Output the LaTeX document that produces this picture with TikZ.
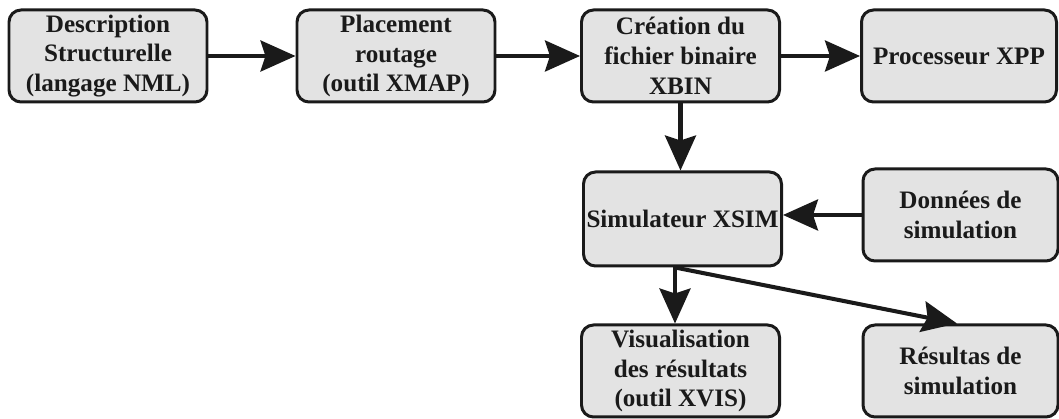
\documentclass[tikz,border=0pt]{standalone}
\usepackage{fontspec}
\setmainfont{Liberation Serif}
\usepackage{tikz}
\usetikzlibrary{positioning,arrows.meta,calc}
\definecolor{boxgray}{RGB}{227,227,227}
\definecolor{inkblack}{RGB}{26,26,26}

\begin{document}
\begin{tikzpicture}[
    box/.style={draw=inkblack, fill=boxgray, line width=1.7pt, rounded corners=0.24cm, inner sep=0pt,
        minimum width=3.96cm, minimum height=1.84cm, align=center, text=inkblack,
        font=\fontsize{14.3}{17}\selectfont\bfseries},
    rbox/.style={box, minimum width=3.9cm},
    arr/.style={-{Stealth[length=0.7cm, width=0.62cm, inset=0.1cm]}, line width=2.3pt, draw=inkblack},
]
\useasboundingbox (0,0) rectangle (21.18,8.38);

% === Flot principal (haut) ===
\node[box] (desc) at (2.16, 7.26) {Description\\Structurelle\\(langage NML)};
\node[box] (place) at (7.92, 7.26) {Placement\\routage\\(outil XMAP)};
\node[box] (bin) at (13.61, 7.26) {Création du\\fichier binaire\\XBIN};
\node[rbox] (xpp) at (19.18, 7.26) {Processeur XPP};

% === Simulation ===
\node[box, minimum height=1.88cm] (sim) at (13.65, 4.0) {Simulateur XSIM};
\node[rbox] (donnees) at (19.21, 4.08) {Données de\\simulation};

\node[box] (vis) at (13.61, 0.96) {Visualisation\\des résultats\\(outil XVIS)};
\node[rbox] (res) at (19.21, 0.96) {Résultas de\\simulation};

\draw[arr] (desc) -- (place);
\draw[arr] (place) -- (bin);
\draw[arr] (bin) -- (xpp);
\draw[arr] (bin.south) -- (bin.south |- sim.north);
\draw[arr] (donnees.west) -- (donnees.west -| sim.east);

% Sorties du simulateur
\coordinate (split) at ([xshift=-0.15cm]sim.south);
\draw[arr] (split) -- (split |- vis.north);
\draw[arr] (split) -- ([xshift=-0.07cm]res.north);

\end{tikzpicture}
\end{document}
